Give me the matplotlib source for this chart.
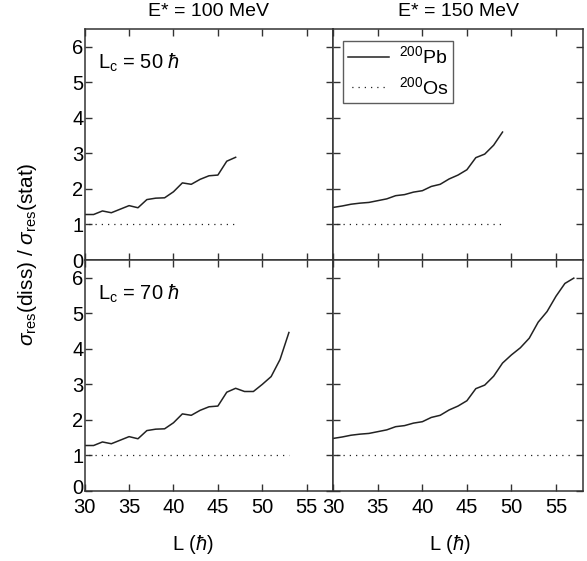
import numpy as np
import matplotlib
matplotlib.use("Agg")
import matplotlib.pyplot as plt
from matplotlib.transforms import ScaledTranslation

plt.rcParams['font.family'] = ['Liberation Sans', 'DejaVu Sans']
plt.rcParams['mathtext.fontset'] = 'custom'
plt.rcParams['mathtext.rm'] = 'Liberation Sans'
plt.rcParams['mathtext.it'] = 'Liberation Sans:italic'
plt.rcParams['mathtext.fallback'] = 'cm'

# data
L_100 = np.arange(30, 54)
pb_100 = [1.28, 1.28, 1.38, 1.33, 1.43, 1.53, 1.47, 1.70, 1.74, 1.75, 1.92,
          2.17, 2.13, 2.27, 2.37, 2.39, 2.78, 2.89, 2.80, 2.80, 3.00, 3.22,
          3.70, 4.46]
L_150 = np.arange(30, 58)
pb_150 = [1.48, 1.52, 1.57, 1.60, 1.62, 1.67, 1.72, 1.81, 1.84, 1.91, 1.95,
          2.07, 2.13, 2.28, 2.39, 2.54, 2.88, 2.98, 3.23, 3.60, 3.83, 4.03,
          4.30, 4.75, 5.05, 5.48, 5.84, 5.99]
os_val = 1.0

# last L for each panel (Lc = 50 and Lc = 70)
Lmax = {(0, 0): 47, (0, 1): 49, (1, 0): 53, (1, 1): 57}
titles = ["E* = 100 MeV", "E* = 150 MeV"]
lc_labels = [r"L$_{\rm c}$ = 50 $\hbar$", r"L$_{\rm c}$ = 70 $\hbar$"]

fig = plt.figure(figsize=(5.87, 5.61), dpi=100)
W, H = 587.0, 561.0
lefts = [84.7, 333.3]
widths = [248.6, 249.4]
tops = [29, 260]
ph = 231

axes = {}
for r in range(2):
    for c in range(2):
        ax = fig.add_axes([lefts[c] / W, (H - tops[r] - ph) / H, widths[c] / W, ph / H])
        axes[(r, c)] = ax
        L = L_100 if c == 0 else L_150
        pb = pb_100 if c == 0 else pb_150
        m = L <= Lmax[(r, c)]
        ax.plot(L[m], np.array(pb)[m], color='#222222', lw=1.1, label=r"$^{\rm 200}$Pb")
        ax.plot([30, Lmax[(r, c)]], [os_val, os_val], color='#222222', lw=0.9,
                linestyle=(2, (1, 4)), label=r"$^{\rm 200}$Os")
        ax.set_xlim(30, 58)
        ax.set_ylim(0, 6.5)
        ax.set_xticks([30, 35, 40, 45, 50, 55])
        ax.set_yticks([0, 1, 2, 3, 4, 5, 6])
        ax.tick_params(direction='in', top=True, right=True, length=5, width=1,
                       labelsize=14.5, color='#333333')
        ax.tick_params(axis='x', pad=5)
        ax.tick_params(axis='y', pad=1)
        for s in ax.spines.values():
            s.set_color('#333333')
            s.set_linewidth(1.1)
        if r == 0:
            ax.set_xticklabels([])
            ax.set_title(titles[c], fontsize=14, pad=9)
        if c == 1:
            ax.set_yticklabels([])
        if c == 0:
            ax.text(0.053, 0.855, lc_labels[r], transform=ax.transAxes,
                    fontsize=14.5, va='center')

# nudge the lowest "0" up a little so it clears the "30" below it
fig.canvas.draw()
zero = axes[(1, 0)].get_yticklabels()[0]
zero.set_transform(zero.get_transform() + ScaledTranslation(0, 3 / 72, fig.dpi_scale_trans))

leg = axes[(0, 1)].legend(loc='upper left', fontsize=14, frameon=True, fancybox=False,
                          edgecolor='#333333', handlelength=2.1, borderpad=0.25,
                          labelspacing=0.45, handletextpad=0.5, borderaxespad=0,
                          bbox_to_anchor=(0.04, 0.949))
leg.get_frame().set_linewidth(1.0)

fig.text(193 / W, 1 - 545 / H, r"L ($\hbar$)", ha='center', va='center', fontsize=14.5)
fig.text(450 / W, 1 - 545 / H, r"L ($\hbar$)", ha='center', va='center', fontsize=14.5)
fig.text(28 / W, 1 - 254 / H, r"$\sigma_{\rm res}$(diss) / $\sigma_{\rm res}$(stat)",
         rotation=90, ha='center', va='center', fontsize=15)

fig.savefig("out.png", dpi=100)
